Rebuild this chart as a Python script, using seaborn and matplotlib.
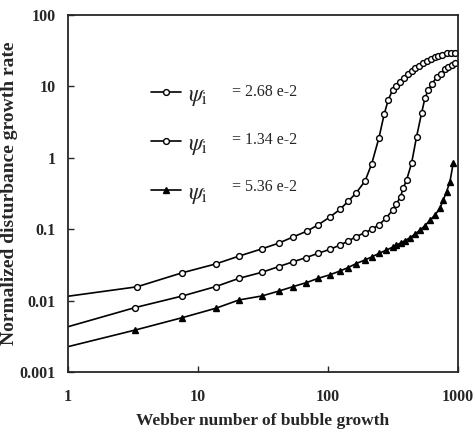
import numpy as np
import pandas as pd
import matplotlib
matplotlib.use("Agg")
import matplotlib.pyplot as plt
import seaborn as sns
from matplotlib.ticker import FixedLocator, FixedFormatter, NullLocator

# ---- data ----
x_a = [1, 3.4, 7.5, 13.7, 20.7, 31, 42, 54, 69, 84, 103, 124, 143, 164, 193, 217, 247, 271,
       291, 314, 337, 358, 384, 410, 440, 470, 501, 535, 574, 616, 661, 706, 757, 818, 879, 948]
y_a = [0.0115, 0.0156, 0.0244, 0.0326, 0.042, 0.053, 0.064, 0.078, 0.094, 0.115, 0.147, 0.19,
       0.246, 0.318, 0.473, 0.82, 1.91, 4.1, 6.45, 8.9, 10.1, 11.6, 13.2, 14.9, 16.6, 18.3,
       19.5, 21.0, 22.4, 24.0, 25.6, 26.7, 27.8, 29.1, 29.6, 29.8]

x_b = [1, 3.3, 7.6, 13.7, 20.7, 31, 42, 54, 68, 84, 103, 124, 143, 165, 192, 218, 248, 282,
       314, 337, 362, 379, 403, 440, 481, 525, 557, 591, 634, 685, 736, 794, 842, 894, 948]
y_b = [0.0043, 0.008, 0.0116, 0.0157, 0.0205, 0.0249, 0.030, 0.035, 0.040, 0.046, 0.052,
       0.060, 0.068, 0.079, 0.089, 0.10, 0.116, 0.145, 0.185, 0.228, 0.285, 0.374, 0.489, 0.84,
       1.98, 4.2, 6.8, 8.9, 11.0, 13.4, 15.2, 17.5, 18.9, 19.9, 21.5]

x_c = [1, 3.3, 7.6, 13.7, 20.7, 31, 42, 54, 68, 84, 103, 124, 143, 165, 192, 218, 248, 282,
       314, 337, 362, 391, 427, 466, 510, 557, 609, 665, 727, 771, 818, 868, 920]
y_c = [0.00226, 0.00387, 0.00577, 0.0078, 0.0102, 0.0116, 0.0136, 0.0157, 0.0178, 0.0205,
       0.0229, 0.026, 0.029, 0.033, 0.037, 0.041, 0.046, 0.051, 0.056, 0.060, 0.064, 0.069,
       0.076, 0.085, 0.097, 0.112, 0.133, 0.158, 0.196, 0.256, 0.336, 0.46, 0.84]

series_values = ["= 2.68 e-2", "= 1.34 e-2", "= 5.36 e-2"]
x_ticks = [1, 10, 100, 1000]
x_tick_labels = ["1", "10", "100", "1000"]
y_ticks = [0.001, 0.01, 0.1, 1, 10, 100]
y_tick_labels = ["0.001", "0.01", "0.1", "1", "10", "100"]

sns.set_style("ticks")
plt.rcParams["font.family"] = ["Liberation Serif", "DejaVu Serif"]
plt.rcParams["mathtext.fontset"] = "stix"

fig = plt.figure(figsize=(4.75, 4.32), dpi=100)
ax = fig.add_axes([0.143, 0.139, 0.821, 0.826])

styles = [
    dict(marker="o", mfc="white", mec="black"),
    dict(marker="o", mfc="white", mec="black"),
    dict(marker="^", mfc="black", mec="black"),
]
handles = []
for xs, ys, st in zip([x_a, x_b, x_c], [y_a, y_b, y_c], styles):
    df = pd.DataFrame({"x": xs, "y": ys})
    sns.lineplot(data=df, x="x", y="y", ax=ax, color="black", linewidth=1.2,
                 marker=st["marker"], markersize=4.2, markerfacecolor=st["mfc"],
                 markeredgecolor=st["mec"], markeredgewidth=1.0,
                 markevery=list(range(1, len(xs))), legend=False)
    handles.append(ax.lines[-1])

ax.set_xscale("log")
ax.set_yscale("log")
ax.set_xlim(1, 1000)
ax.set_ylim(0.001, 100)
ax.xaxis.set_major_locator(FixedLocator(x_ticks))
ax.xaxis.set_major_formatter(FixedFormatter(x_tick_labels))
ax.yaxis.set_major_locator(FixedLocator(y_ticks))
ax.yaxis.set_major_formatter(FixedFormatter(y_tick_labels))
ax.xaxis.set_minor_locator(NullLocator())
ax.yaxis.set_minor_locator(NullLocator())
ax.tick_params(axis="both", direction="in", length=4, width=1, labelsize=11.5)
ax.tick_params(axis="x", pad=12)
ax.tick_params(axis="y", pad=9)
for lbl in ax.get_xticklabels() + ax.get_yticklabels():
    lbl.set_fontweight("bold")
for s in ax.spines.values():
    s.set_linewidth(1.3)
    s.set_visible(True)

ax.set_xlabel("Webber number of bubble growth", fontsize=12.5, fontweight="bold", labelpad=6)
ax.set_ylabel("Normalized disturbance growth rate", fontsize=14, fontweight="bold")
ax.yaxis.set_label_coords(-0.128, 0.5)

# legend: handles with a large psi_i, values written next to them
leg = ax.legend(handles, [r"$\psi_{\mathrm{i}}$"] * 3, loc="upper left",
                bbox_to_anchor=(0.19, 0.833), frameon=False, fontsize=17,
                handlelength=1.25, labelspacing=1.08, handletextpad=0.3, borderaxespad=0)
row_y = [0.785, 0.650, 0.517]
for yy, txt in zip(row_y, series_values):
    ax.text(0.42, yy, txt, transform=ax.transAxes, fontsize=11.5, va="center", ha="left")

fig.savefig("out.png", dpi=100)
